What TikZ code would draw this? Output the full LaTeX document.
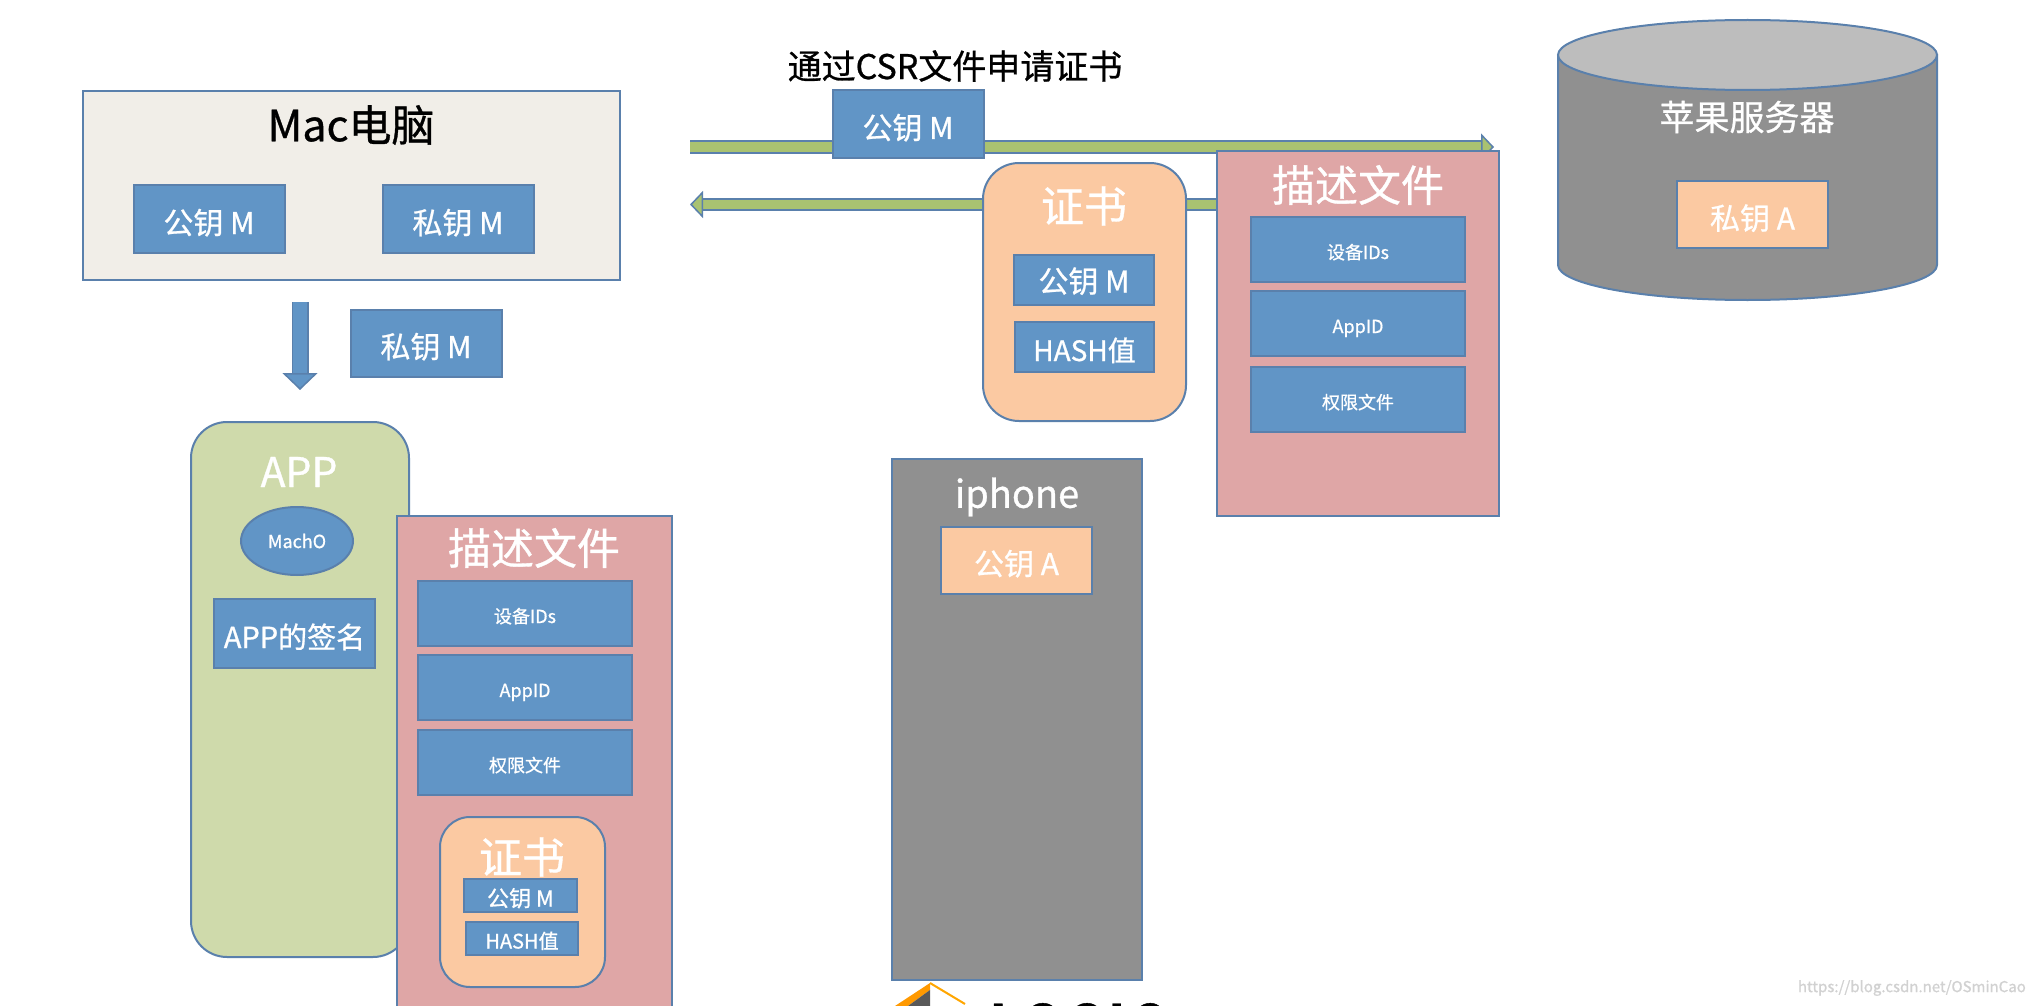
\documentclass[tikz,border=0pt]{standalone}
\usepackage{fontspec}
\setmainfont[FakeBold=0.8]{Noto Sans CJK SC}
\usetikzlibrary{arrows.meta,shapes.geometric}
\definecolor{edgeblue}{HTML}{5A80AC}
\definecolor{keyblue}{HTML}{6195C6}
\definecolor{filepink}{HTML}{DFA6A6}
\definecolor{certpeach}{HTML}{FBC9A2}
\definecolor{appgreen}{HTML}{CFDAAB}
\definecolor{macbeige}{HTML}{F1EEE8}
\definecolor{servergray}{HTML}{909090}
\definecolor{lidgray}{HTML}{BDBDBD}
\definecolor{arrowgreen}{HTML}{A9C271}
\newcommand{\fs}[1]{\fontsize{#1}{#1}\selectfont}
\begin{document}
\begin{tikzpicture}[x=1pt,y=-1pt,
  box/.style={draw=edgeblue,line width=2pt,inner sep=0pt,text=white},
  keybox/.style={box,fill=keyblue,font=\fs{30},text height=30pt,text depth=0pt},
  rowbox/.style={box,fill=keyblue,font=\fs{18},text height=19pt,text depth=0pt,minimum width=214pt,minimum height=65pt},
  peachbox/.style={box,fill=certpeach,font=\fs{30},text height=30pt,text depth=0pt,minimum width=151pt,minimum height=67pt},
  title/.style={inner sep=0pt,text=white,font=\fs{43}},
  greenarrow/.style={double=arrowgreen,draw=edgeblue,double distance=9pt,line width=2pt,
    -{Triangle[length=13pt,width=27pt,fill=arrowgreen,color=edgeblue,line width=1.5pt]}},
  bluearrow/.style={double=keyblue,draw=edgeblue,double distance=14pt,line width=1.5pt,
    -{Triangle[length=17pt,width=35pt,fill=keyblue,color=edgeblue,line width=1.5pt]}}]
\useasboundingbox (0,0) rectangle (2034,1006);
\clip (0,0) rectangle (2034,1006);
\fill[white] (0,0) rectangle (2034,1006);

% logo under the phone, cut off by the page
\fill[orange!80!yellow] (895,1006) -- (930,983) -- (930,990) -- (908,1006) -- cycle;
\fill[black!65] (908,1006) -- (930,990) -- (930,1006) -- cycle;
\draw[orange!70!yellow,line width=2pt] (930,983) -- (965,1004);
\node[anchor=base west,inner sep=0pt,font=\fs{46}\bfseries] (logotext) at (990,1038) {L\hspace{7pt}O\hspace{7pt}G\hspace{7pt}I\hspace{7pt}C};

% mac
\node[box,fill=macbeige,minimum width=537pt,minimum height=189pt] (mac) at (351.5,185.5) {};
\node[inner sep=0pt,font=\fs{43}] (mactitle) at (351,125) {Mac电脑};
\node[keybox,minimum width=151pt,minimum height=68pt] (macpub) at (209,219) {公钥 M};
\node[keybox,minimum width=151pt,minimum height=68pt] (macpriv) at (458,219) {私钥 M};
\node[keybox,minimum width=151pt,minimum height=67pt] (copypriv) at (426,343) {私钥 M};
\coordinate (downstart) at (300,302);
\coordinate (downend) at (300,390);
\draw[bluearrow] (downstart) -- (downend);

% app
\node[box,fill=appgreen,rounded corners=36pt,minimum width=218pt,minimum height=535pt] (app) at (300,689.5) {};
\node[title,font=\fs{41}] (apptitle) at (299,472) {APP};
\node[box,fill=keyblue,ellipse,font=\fs{18},minimum width=112pt,minimum height=68pt] (macho) at (297,541) {MachO};
\node[keybox,minimum width=161pt,minimum height=69pt,font=\fs{29},text height=29pt] (appsign) at (294.5,633.5) {APP的签名};

% left profile
\node[box,fill=filepink,minimum width=275pt,minimum height=530pt] (leftfile) at (534.5,781) {};
\node[title] (lefttitle) at (534,548) {描述文件};
\foreach \y/\name/\txt in {613.5/leftdev/设备IDs,687.5/leftid/AppID,762.5/leftperm/权限文件}
\node[rowbox] (\name) at (525,\y) {\txt};
\node[box,fill=certpeach,rounded corners=30pt,minimum width=165pt,minimum height=170pt] (leftcert) at (522.5,902) {};
\node[title] (leftcerttitle) at (522,857) {证书};
\node[keybox,font=\fs{22},text height=22pt,minimum width=113pt,minimum height=33pt] (leftpub) at (520.5,895.5) {公钥 M};
\node[keybox,font=\fs{20},text height=20pt,minimum width=112pt,minimum height=33pt] (lefthash) at (522,938.5) {HASH值};

% arrows to and from the server
\coordinate (reqstart) at (690,147);
\coordinate (reqend) at (1494,147);
\coordinate (backstart) at (1300,204.5);
\coordinate (backend) at (690,204.5);
\draw[greenarrow] (reqstart) -- (reqend);
\draw[greenarrow] (backstart) -- (backend);
\node[inner sep=0pt,font=\fs{34}] (reqtext) at (955,66) {通过CSR文件申请证书};
\node[keybox,minimum width=151pt,minimum height=68pt] (reqpub) at (908,124) {公钥 M};

% certificate
\node[box,fill=certpeach,rounded corners=36pt,minimum width=203pt,minimum height=258pt] (cert) at (1084.5,292) {};
\node[title] (certtitle) at (1084,206) {证书};
\node[keybox,text height=25pt,minimum width=140pt,minimum height=50pt] (certpub) at (1084,280) {公钥 M};
\node[keybox,font=\fs{28},text height=28pt,minimum width=139pt,minimum height=50pt] (certhash) at (1084.5,347) {HASH值};

% right profile
\node[box,fill=filepink,minimum width=282pt,minimum height=365pt] (rightfile) at (1358,333.5) {};
\node[title] (righttitle) at (1358,185) {描述文件};
\foreach \y/\name/\txt in {249.5/rightdev/设备IDs,323.5/rightid/AppID,399.5/rightperm/权限文件}
\node[rowbox] (\name) at (1358,\y) {\txt};

% phone
\node[box,fill=servergray,minimum width=250pt,minimum height=521pt] (phone) at (1017,719.5) {};
\node[title,font=\fs{38}] (phonetitle) at (1017,497) {iphone};
\node[peachbox] (phonekey) at (1016.5,560) {公钥 A};

% server
\draw[edgeblue,line width=2pt,fill=servergray] (1558,55) -- (1558,265) arc[x radius=189.5,y radius=35,start angle=180,end angle=0] -- (1937,55) -- cycle;
\draw[edgeblue,line width=2pt,fill=lidgray] (1747.5,55) ellipse[x radius=189.5,y radius=35];
\node[inner sep=0pt,text=white,font=\fs{35}] (servertitle) at (1747,117) {苹果服务器};
\node[peachbox] (serverkey) at (1752.5,214.5) {私钥 A};

\node[anchor=east,inner sep=0pt,text=black!18,font=\fs{15}] (mark) at (2026,988) {https://blog.csdn.net/OSminCao};
\end{tikzpicture}
\end{document}
